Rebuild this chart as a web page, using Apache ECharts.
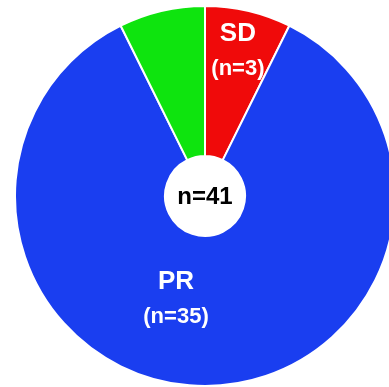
<!DOCTYPE html>
<html>
<head>
<meta charset="utf-8">
<script src="https://cdn.jsdelivr.net/npm/echarts@6/dist/echarts.min.js"></script>
<style>
  html, body { margin: 0; padding: 0; background: #fff; }
  #chart { width: 389px; height: 387px; }
</style>
</head>
<body>
<div id="chart"></div>
<script>
// response groups, clockwise from 12 o'clock
var categories = ["SD", "PR", "CR"];
var counts = [3, 35, 3];
var showLabel = [true, true, false];
var colors = ["#f00a0a", "#1a3ef0", "#0ee40e"];

var total = counts.reduce(function (a, b) { return a + b; }, 0);
var font = 'Arial, "Liberation Sans", sans-serif';

// nudge labels from the slice mid point to where the original has them
var labelShift = [[6, -30], [-29, -15], [0, 0]];

var chart = echarts.init(document.getElementById("chart"));
chart.setOption({
  animation: false,
  series: [
    {
      type: "pie",
      center: [205, 196],
      radius: [40, 190],
      startAngle: 90,
      clockwise: true,
      silent: true,
      itemStyle: {
        borderColor: "#fff",
        borderWidth: 2
      },
      label: {
        position: "inside",
        formatter: function (p) {
          return "{name|" + p.name + "}\n{count|(n=" + p.value + ")}";
        },
        rich: {
          name: { color: "#fff", fontFamily: font, fontWeight: "bold", fontSize: 26, lineHeight: 35 },
          count: { color: "#fff", fontFamily: font, fontWeight: "bold", fontSize: 22, lineHeight: 35 }
        }
      },
      labelLine: { show: false },
      labelLayout: function (p) {
        var s = labelShift[p.dataIndex];
        return { dx: s[0], dy: s[1] };
      },
      data: categories.map(function (c, i) {
        return {
          name: c,
          value: counts[i],
          itemStyle: { color: colors[i] },
          label: { show: showLabel[i] }
        };
      })
    }
  ],
  graphic: [
    {
      type: "text",
      x: 205,
      y: 197,
      style: {
        text: "n=" + total,
        fill: "#000",
        font: "bold 24px " + font,
        align: "center",
        verticalAlign: "middle"
      }
    }
  ]
});
</script>
</body>
</html>
